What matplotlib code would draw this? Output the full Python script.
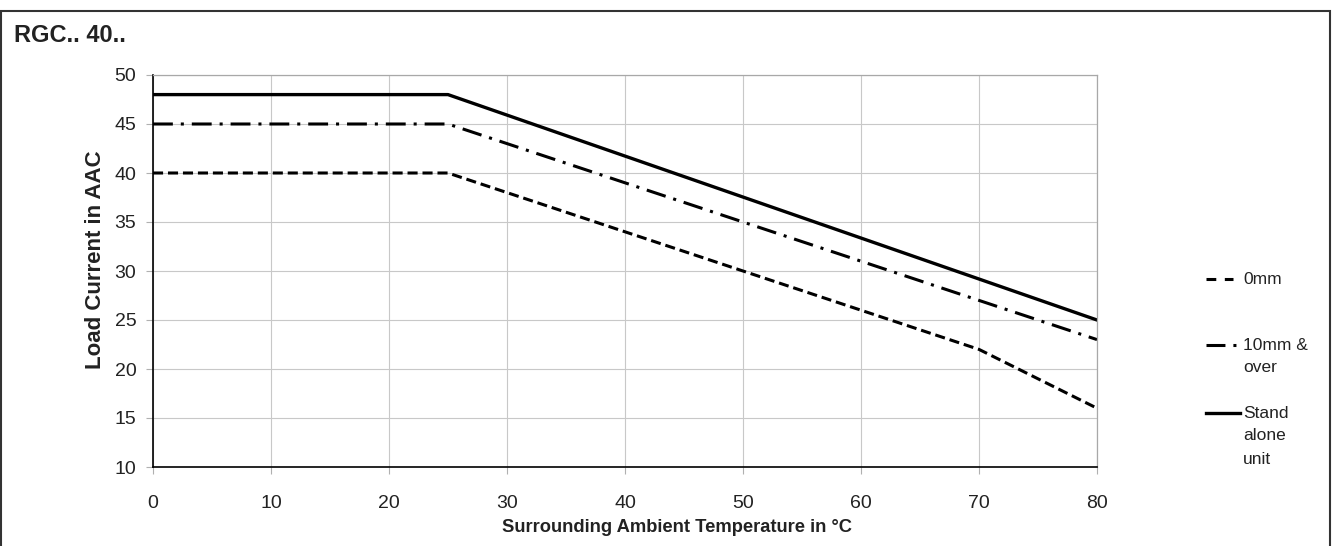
import matplotlib
matplotlib.use("Agg")
import matplotlib.pyplot as plt
from matplotlib.patches import Rectangle
from matplotlib.lines import Line2D

plt.rcParams["font.family"] = ["Liberation Sans", "DejaVu Sans"]

# derating curves (temperature in degC, load current in AAC)
temp_0mm = [0, 25, 70, 80]
amps_0mm = [40, 40, 22, 16]
temp_10mm = [0, 25, 80]
amps_10mm = [45, 45, 23]
temp_alone = [0, 25, 80]
amps_alone = [48, 48, 25]

x_ticks = [0, 10, 20, 30, 40, 50, 60, 70, 80]
y_ticks = [10, 15, 20, 25, 30, 35, 40, 45, 50]

series_labels = ["0mm", "10mm &\nover", "Stand\nalone\nunit"]

DASHED = (3.3, 1.6)
DASHDOT = (6.5, 2.6, 1.0, 2.6)

W, H = 1334, 546
fig = plt.figure(figsize=(W / 100, H / 100), dpi=100)
ax = fig.add_axes([153 / W, 1 - 467 / H, (1097 - 153) / W, (467 - 75) / H])

ax.plot(temp_0mm, amps_0mm, color="black", lw=2.2, dashes=DASHED)
ax.plot(temp_10mm, amps_10mm, color="black", lw=2.2, dashes=DASHDOT)
ax.plot(temp_alone, amps_alone, color="black", lw=2.4)

ax.set_xlim(0, 80)
ax.set_ylim(10, 50)
ax.set_xticks(x_ticks)
ax.set_yticks(y_ticks)
ax.grid(True, color="#c8c8c8", lw=0.8)
ax.set_axisbelow(True)
for s in ["top", "right"]:
    ax.spines[s].set_color("#a8a8a8")
    ax.spines[s].set_linewidth(0.9)
for s in ["left", "bottom"]:
    ax.spines[s].set_color("black")
    ax.spines[s].set_linewidth(1.2)
ax.tick_params(axis="both", colors="#b0b0b0", labelcolor="#222222", labelsize=14,
               length=5, width=0.8)
ax.tick_params(axis="x", pad=15)
ax.tick_params(axis="y", pad=7)

# axis titles placed in figure pixels (x title is centred on the whole panel)
fig.text(677 / W, 1 - 528 / H, "Surrounding Ambient Temperature in °C", fontsize=13.2,
         fontweight="bold", color="#222222", ha="center", va="center")
fig.text(96 / W, 1 - 260 / H, "Load Current in AAC", fontsize=16, fontweight="bold",
         color="#222222", ha="center", va="center", rotation=90)

# legend drawn by hand so the handle sits on the first text line
handle_x = [(1206, 1233), (1206, 1236), (1206, 1240)]
styles = [dict(dashes=(3.2, 2.8), lw=2.2), dict(dashes=(6.2, 2.6, 1.0, 4.0), lw=2.2), dict(lw=2.4)]
row_y = [279, 345, 413]
for label, (hx0, hx1), st, y in zip(series_labels, handle_x, styles, row_y):
    fy = 1 - y / H
    fig.add_artist(Line2D([hx0 / W, hx1 / W], [fy, fy], color="black",
                          transform=fig.transFigure, **st))
    for k, line in enumerate(label.split("\n")):
        fig.text(1243 / W, 1 - (y + 23 * k) / H, line, fontsize=12.5, color="#222222",
                 va="center", ha="left")

fig.text(14 / W, 1 - 35 / H, "RGC.. 40..", fontsize=17, fontweight="bold",
         color="#222222", va="center", ha="left")

# outer frame around the whole chart
fig.patches.append(Rectangle((1 / W, -0.05), (1330 - 1) / W, 1.05 - 11 / H,
                             transform=fig.transFigure, fill=False,
                             edgecolor="#333333", lw=1.5, clip_on=False))

fig.savefig("out.png", dpi=100)
